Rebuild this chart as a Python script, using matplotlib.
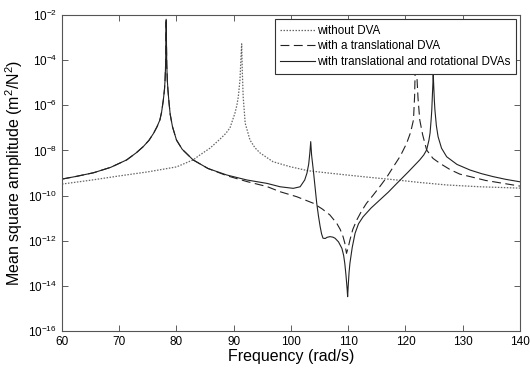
import numpy as np
import matplotlib
matplotlib.use("Agg")
import matplotlib.pyplot as plt
from matplotlib.ticker import FixedLocator, LogFormatterSciNotation, NullLocator

# values: frequency (rad/s) and log10 of mean square amplitude
no_dva_f = [60, 65, 70, 75, 80, 82.9, 84.1, 85.85, 87.6, 88.6, 89.35, 90.22, 90.55, 90.8,
            91.09, 91.27, 91.39, 91.5, 91.65, 92.0, 92.84, 93.7, 94.59, 96.86, 99.83, 103.0,
            106.5, 109.8, 114, 118.5, 122.5, 127.2, 133, 140]
no_dva_logy = [-9.49, -9.32, -9.13, -8.95, -8.73, -8.42, -8.2, -7.9, -7.5, -7.25, -7.0,
               -6.34, -6.0, -5.62, -4.88, -3.85, -3.28, -4.5, -5.62, -6.79, -7.54, -7.88,
               -8.11, -8.5, -8.72, -8.9, -9.0, -9.09, -9.2, -9.31, -9.42, -9.53, -9.61, -9.67]

trans_f = [60, 62.5, 65.5, 68.5, 71.3, 73, 74.2, 75.2, 76.0, 76.6, 77.1, 77.4, 77.7, 77.9,
           78.0, 78.1, 78.15, 78.2, 78.25, 78.3, 78.4, 78.5, 78.7, 78.9, 79.3, 80.0, 81.0,
           82.9, 85.5, 88.8, 92.3, 95.8, 98.1, 101.0, 103.9, 105.5, 106.8, 108.0, 108.6,
           109.1, 109.4, 109.7, 110.0, 110.3, 110.8, 111.5, 112.3, 113.2, 114.3, 115.5,
           116.7, 117.9, 119.1, 120.2, 120.9, 121.4, 121.6, 121.7, 121.8, 121.9, 122.0,
           122.2, 122.5, 123.0, 123.7, 124.8, 126.0, 127.8, 129.5, 131.3, 134, 137.1, 140]
trans_logy = [-9.27, -9.15, -8.99, -8.75, -8.42, -8.1, -7.83, -7.55, -7.24, -6.95, -6.65,
              -6.3, -5.77, -5.3, -4.9, -4.2, -3.2, -2.1, -3.2, -4.2, -4.9, -5.3, -5.9, -6.4,
              -6.95, -7.54, -7.95, -8.42, -8.8, -9.12, -9.38, -9.6, -9.83, -10.05, -10.34,
              -10.6, -10.86, -11.23, -11.5, -11.82, -12.1, -12.56, -12.3, -11.97, -11.5,
              -11.08, -10.7, -10.34, -10.0, -9.61, -9.2, -8.72, -8.25, -7.69, -7.2, -6.65,
              -5.6, -4.44, -3.0, -4.0, -4.73, -5.7, -6.65, -7.3, -7.98, -8.35, -8.57, -8.85,
              -9.05, -9.16, -9.33, -9.46, -9.58]

both_f = [60, 62.5, 65.5, 68.5, 71.3, 73, 74.2, 75.2, 76.0, 76.6, 77.1, 77.4, 77.7, 77.9,
          78.0, 78.1, 78.15, 78.2, 78.25, 78.3, 78.4, 78.5, 78.7, 78.9, 79.3, 80.0, 81.0,
          82.9, 85.5, 88.8, 92.3, 95.8, 98.1, 100.4, 101.6, 102.4, 102.8, 103.1, 103.3,
          103.45, 103.6, 103.9, 104.2, 104.5, 104.8, 105.1, 105.35, 105.6, 106.0, 106.3,
          106.8, 107.3, 107.7, 108.3, 108.9, 109.2, 109.4, 109.6, 109.8, 109.9, 110.0,
          110.15, 110.3, 110.7, 111.2, 111.8, 112.6, 114, 115.5, 117, 118.5, 120.5, 122.5,
          123.2, 123.7, 124.1, 124.3, 124.5, 124.6, 124.7, 124.8, 124.85, 124.95, 125.05,
          125.15, 125.4, 125.7, 126.3, 127.2, 129, 131.3, 133.3, 135.3, 137.5, 140]
both_logy = [-9.27, -9.15, -8.99, -8.75, -8.42, -8.1, -7.83, -7.55, -7.24, -6.95, -6.65,
             -6.3, -5.77, -5.3, -4.9, -4.2, -3.3, -2.3, -3.3, -4.2, -4.9, -5.3, -5.9, -6.4,
             -6.95, -7.54, -7.95, -8.42, -8.8, -9.09, -9.31, -9.46, -9.61, -9.68, -9.61,
             -9.31, -9.0, -8.6, -8.1, -7.61, -8.2, -8.87, -9.6, -10.34, -10.9, -11.38,
             -11.7, -11.89, -11.9, -11.85, -11.82, -11.84, -11.89, -12.05, -12.34, -12.65,
             -13.0, -13.5, -14.1, -14.48, -14.0, -13.4, -13.0, -12.3, -11.67, -11.25,
             -10.94, -10.55, -10.2, -9.85, -9.46, -8.95, -8.42, -8.2, -7.98, -7.55, -7.23,
             -6.6, -6.21, -5.6, -5.0, -4.58, -5.2, -5.8, -6.21, -6.9, -7.39, -7.9, -8.28,
             -8.62, -8.87, -9.03, -9.16, -9.28, -9.39]

labels = ["without DVA", "with a translational DVA", "with translational and rotational DVAs"]
x_ticks = [60, 70, 80, 90, 100, 110, 120, 130, 140]
y_ticks = [1e-16, 1e-14, 1e-12, 1e-10, 1e-8, 1e-6, 1e-4, 1e-2]


def main():
    plt.rcParams['font.family'] = ['Liberation Sans', 'DejaVu Sans']
    plt.rcParams['mathtext.default'] = 'regular'

    fig = plt.figure(figsize=(5.3, 3.7), dpi=100)
    ax = fig.add_axes([0.117, 0.1054, 0.864, 0.8541])

    ax.semilogy(no_dva_f, 10.0 ** np.array(no_dva_logy), color='#666666', lw=0.9,
                linestyle=(0, (1.2, 1.2)), label=labels[0])
    ax.semilogy(trans_f, 10.0 ** np.array(trans_logy), color='#222222', lw=0.8,
                dashes=(8, 4), label=labels[1])
    ax.semilogy(both_f, 10.0 ** np.array(both_logy), color='#222222', lw=0.8,
                label=labels[2])

    ax.set_xlim(60, 140)
    ax.set_ylim(1e-16, 1e-2)
    ax.xaxis.set_major_locator(FixedLocator(x_ticks))
    ax.yaxis.set_major_locator(FixedLocator(y_ticks))
    ax.yaxis.set_major_formatter(LogFormatterSciNotation())
    ax.yaxis.set_minor_locator(NullLocator())
    ax.tick_params(direction='in', top=True, right=True, length=4, width=0.6,
                   labelsize=8.5, color='#444444')
    for sp in ax.spines.values():
        sp.set_linewidth(0.8)
        sp.set_color('#555555')

    ax.set_xlabel("Frequency (rad/s)", fontsize=11.5, labelpad=1)
    ax.set_ylabel("Mean square amplitude (m$^2$/N$^2$)", fontsize=11.5, labelpad=2)

    leg = ax.legend(loc='upper right', fontsize=8.4, fancybox=False, framealpha=1,
                    edgecolor='#333333', borderaxespad=0.35, handlelength=3.0,
                    handletextpad=0.1, labelspacing=0.3, borderpad=0.5)
    leg.get_frame().set_linewidth(0.8)

    fig.savefig("out.png", dpi=100)


if __name__ == "__main__":
    main()
